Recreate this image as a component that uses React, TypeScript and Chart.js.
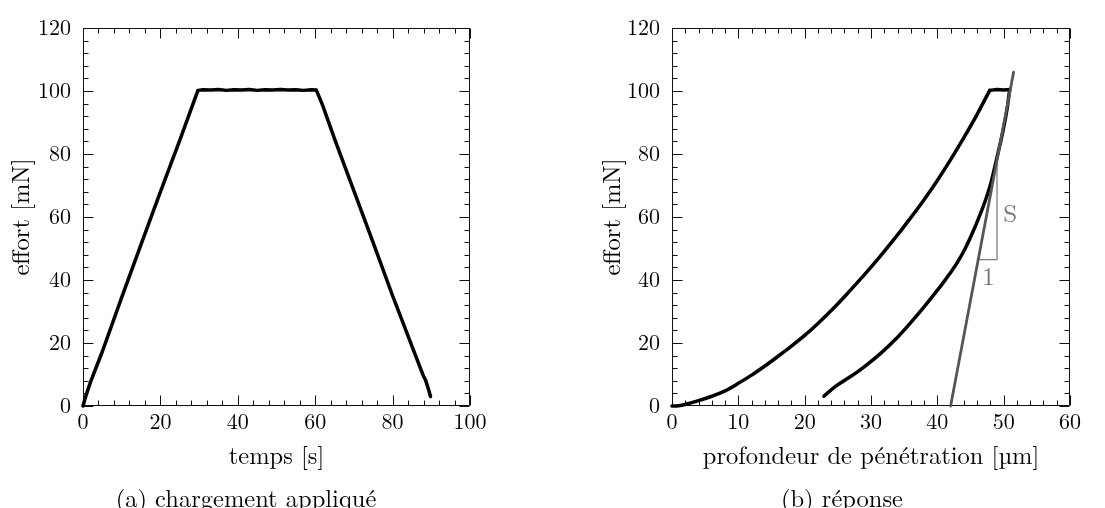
import React, { useEffect, useRef } from "react";
import { Chart, registerables } from "chart.js";
Chart.register(...registerables);

const SERIF =
  "\"Latin Modern Roman\", \"CMU Serif\", \"Liberation Serif\", LiberationSerif, \"DejaVu Serif\", DejaVuSerif, \"Noto Serif\", \"Nimbus Roman\", \"Nimbus Roman No9 L\", FreeSerif, Tinos, \"Times New Roman\", Times, serif";
const TEXT = "#000";

// ---------- (a) chargement appliqué ----------
const timeS = [
  0, 0.5, 1, 2, 5, 10, 15, 20, 25, 29.7,
  31, 33, 35, 37, 39, 41, 43, 45, 47, 49, 51, 53, 55, 57, 59,
  60.3,
  61, 62, 65, 70, 75, 80, 85, 88, 88.5, 89.2, 89.8,
];
const effortA = [
  0, 2.2, 4.2, 7.8, 17.3, 34.5, 51.3, 68, 84.3, 100.2,
  100.4, 100.3, 100.5, 100.2, 100.4, 100.3, 100.5, 100.2, 100.4, 100.3, 100.5, 100.3, 100.4, 100.2, 100.4,
  100.3,
  98.2, 95.2, 84.8, 68.3, 51.8, 35, 19, 9.4, 8.3, 5.6, 3,
];

// ---------- (b) réponse ----------
const depthLoad = [
  0, 1, 2, 4, 6, 8, 10, 12, 14, 16, 18, 20, 22, 24, 26, 28, 30, 32, 34, 36,
  38, 40, 42, 44, 46, 47.9, 49, 50, 50.9,
];
const effortLoad = [
  0, 0.1, 0.5, 1.7, 3.1, 4.8, 7.2, 9.8, 12.7, 15.8, 19.0, 22.4, 26.2, 30.3, 34.7, 39.3, 44.1, 49.1, 54.3, 59.8,
  65.5, 71.6, 78.2, 85.2, 92.6, 100.2, 100.5, 100.3, 100.5,
];
const depthUnload = [
  50.9, 50.6, 50.1, 49.5, 48.9, 48.1, 47.2, 46.2, 45.2, 44.2, 43.0, 41.8, 40.7, 39.5, 37.5,
  35.5, 33.7, 31.5, 29.5, 27.8, 26, 24.5, 22.9,
];
const effortUnload = [
  100.4, 95.5, 89.5, 83.5, 78, 71, 65, 59.5, 54.5, 50, 45.5, 41.8, 38.6, 35.4, 30.2,
  25.3, 21.2, 16.8, 13.3, 10.6, 8.1, 6.0, 3.1,
];
const tangentDepth = [42.0, 51.5];
const tangentEffort = [0, 106];
const slopeDepth = [46.17, 49.0, 49.0];
const slopeEffort = [46.5, 46.5, 78.1];
const slopeLabels = [
  { text: "S", x: 51.0, y: 61 },
  { text: "1", x: 47.7, y: 41 },
];

const pts = (xs: number[], ys: number[]) => xs.map((x, i) => ({ x, y: ys[i] }));

const frameTicksPlugin = {
  id: "frameTicks",
  beforeDatasetsDraw(chart: any, _args: any, o: any) {
    const { ctx, chartArea: a } = chart;
    const xs = chart.scales.x;
    const ys = chart.scales.y;
    const L = Math.round(a.left) + 0.5;
    const R = Math.round(a.right) - 0.5;
    const T = Math.round(a.top) + 0.5;
    const B = Math.round(a.bottom) - 0.5;
    ctx.save();
    ctx.strokeStyle = "#111";
    ctx.lineWidth = 1;
    ctx.beginPath();
    ctx.rect(L, T, R - L, B - T);
    const isMajor = (v: number, m: number) => Math.abs(v / m - Math.round(v / m)) < 1e-6;
    for (let v = xs.min; v <= xs.max + 1e-9; v += o.xMinor) {
      const len = isMajor(v, o.xMajor) ? 10 : 5;
      const px = Math.round(xs.getPixelForValue(v)) + 0.5;
      ctx.moveTo(px, B);
      ctx.lineTo(px, B - len);
      ctx.moveTo(px, T);
      ctx.lineTo(px, T + len);
    }
    for (let v = ys.min; v <= ys.max + 1e-9; v += o.yMinor) {
      const len = isMajor(v, o.yMajor) ? 10 : 5;
      const py = Math.round(ys.getPixelForValue(v)) + 0.5;
      ctx.moveTo(L, py);
      ctx.lineTo(L + len, py);
      ctx.moveTo(R, py);
      ctx.lineTo(R - len, py);
    }
    ctx.stroke();
    ctx.restore();
  },
};

const notesPlugin = {
  id: "notes",
  afterDatasetsDraw(chart: any, _args: any, o: any) {
    if (!o || !o.labels) return;
    const { ctx } = chart;
    const xs = chart.scales.x;
    const ys = chart.scales.y;
    ctx.save();
    ctx.font = `25px ${SERIF}`;
    ctx.fillStyle = "#777";
    ctx.textAlign = "center";
    ctx.textBaseline = "middle";
    for (const l of o.labels) {
      ctx.fillText(l.text, xs.getPixelForValue(l.x), ys.getPixelForValue(l.y));
    }
    ctx.restore();
  },
};

type PanelOpts = {
  datasets: any[];
  xMax: number;
  xMajor: number;
  xMinor: number;
  xTitle: string;
  yWidth: number;
  yTitlePad: number;
  padRight: number;
  labels?: any[];
};

const TICK_SIZE = 22;
const TITLE_SIZE = 24.5;

function makeConfig(p: PanelOpts): any {
  return {
    type: "scatter",
    data: { datasets: p.datasets },
    plugins: [frameTicksPlugin, notesPlugin],
    options: {
      animation: false,
      responsive: false,
      events: [],
      layout: { padding: { left: 0, top: 28, right: p.padRight, bottom: 0 } },
      plugins: {
        legend: { display: false },
        tooltip: { enabled: false },
        frameTicks: { xMajor: p.xMajor, xMinor: p.xMinor, yMajor: 20, yMinor: 4 },
        notes: { labels: p.labels || [] },
      },
      scales: {
        x: {
          type: "linear",
          min: 0,
          max: p.xMax,
          afterFit: (s: any) => {
            s.height = 74;
          },
          grid: { display: false, drawTicks: false },
          border: { display: false },
          ticks: {
            stepSize: p.xMajor,
            color: TEXT,
            padding: 3,
            maxRotation: 0,
            autoSkip: false,
            font: { family: SERIF, size: TICK_SIZE },
          },
          title: {
            display: true,
            text: p.xTitle,
            color: TEXT,
            font: { family: SERIF, size: TITLE_SIZE, lineHeight: 1 },
            padding: { top: 0, bottom: 11 },
          },
        },
        y: {
          type: "linear",
          min: 0,
          max: 120,
          afterFit: (s: any) => {
            s.width = p.yWidth;
          },
          grid: { display: false, drawTicks: false },
          border: { display: false },
          ticks: {
            stepSize: 20,
            color: TEXT,
            padding: 12,
            autoSkip: false,
            font: { family: SERIF, size: TICK_SIZE },
          },
          title: {
            display: true,
            text: "effort [mN]",
            color: TEXT,
            font: { family: SERIF, size: TITLE_SIZE, lineHeight: 1 },
            padding: { top: p.yTitlePad, bottom: 0 },
          },
        },
      },
    },
  };
}

const curve = (data: any[], color = "#000", width = 3.5, smooth = false) => ({
  data,
  showLine: true,
  pointRadius: 0,
  borderColor: color,
  backgroundColor: color,
  borderWidth: width,
  borderJoinStyle: "round",
  borderCapStyle: "round",
  fill: false,
  tension: smooth ? 0.4 : 0,
  cubicInterpolationMode: smooth ? "monotone" : "default",
  clip: false,
});

function Panel({ left, width, height, opts }: { left: number; width: number; height: number; opts: PanelOpts }) {
  const ref = useRef<HTMLCanvasElement>(null);
  useEffect(() => {
    const chart = new Chart(ref.current as HTMLCanvasElement, makeConfig(opts));
    return () => chart.destroy();
  }, []);
  return (
    <canvas
      ref={ref}
      width={width}
      height={height}
      style={{ position: "absolute", left, top: 0, width, height }}
    />
  );
}

const captionStyle = (cx: number): React.CSSProperties => ({
  position: "absolute",
  left: cx - 200,
  width: 400,
  top: 484,
  textAlign: "center",
  fontFamily: SERIF,
  fontSize: 24.5,
  lineHeight: "25px",
  color: TEXT,
  whiteSpace: "nowrap",
});

export default function App() {
  const optsA: PanelOpts = {
    datasets: [curve(pts(timeS, effortA))],
    xMax: 100,
    xMajor: 20,
    xMinor: 4,
    xTitle: "temps [s]",
    yWidth: 83,
    yTitlePad: 9.5,
    padRight: 90,
  };
  const optsB: PanelOpts = {
    datasets: [
      curve(pts(tangentDepth, tangentEffort), "#555", 2.8),
      curve(pts(slopeDepth, slopeEffort), "#808080", 1.3),
      curve(pts(depthLoad.slice(0, 26), effortLoad.slice(0, 26)), "#000", 3.5, true),
      curve(pts(depthLoad.slice(25), effortLoad.slice(25))),
      curve(pts(depthUnload, effortUnload), "#000", 3.5, true),
    ],
    xMax: 60,
    xMajor: 10,
    xMinor: 2,
    xTitle: "profondeur de pénétration [µm]",
    yWidth: 112,
    yTitlePad: 40.5,
    padRight: 35,
    labels: slopeLabels,
  };
  return (
    <div
      style={{
        position: "absolute",
        left: 0,
        top: 0,
        width: 1105,
        height: 508,
        background: "#fff",
        overflow: "hidden",
      }}
    >
      <Panel left={0} width={560} height={480} opts={optsA} />
      <Panel left={560} width={545} height={480} opts={optsB} />
      <div style={captionStyle(246)}>(a) chargement appliqué</div>
      <div style={captionStyle(842)}>(b) réponse</div>
    </div>
  );
}
